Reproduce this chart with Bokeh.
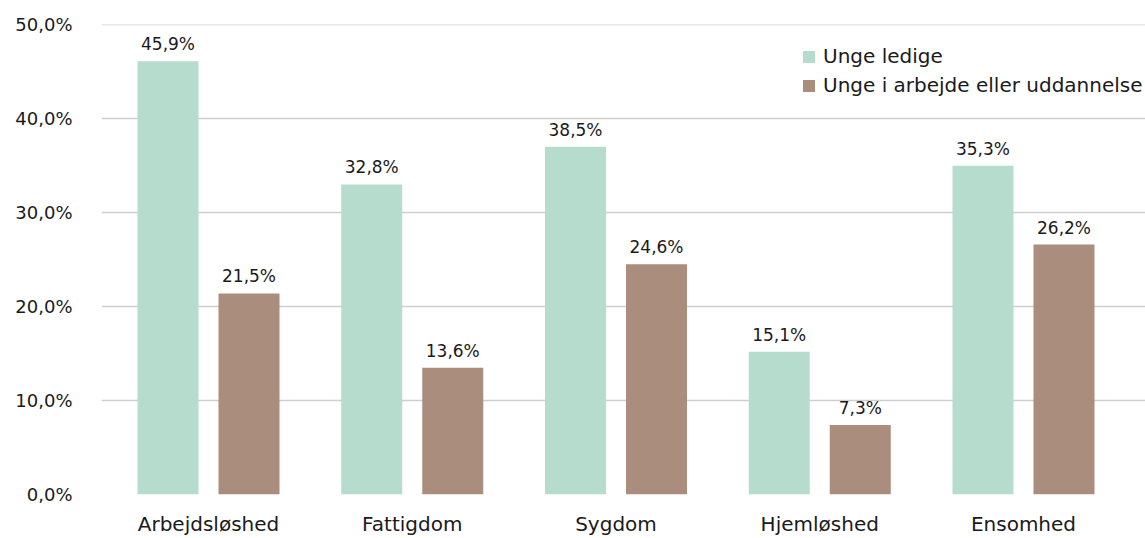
import numpy as np
from bokeh.plotting import figure
from bokeh.models import ColumnDataSource, FixedTicker, Legend, LegendItem
from bokeh.embed import file_html
from bokeh.resources import INLINE
from bokeh.core.properties import value

categories = ["Arbejdsløshed", "Fattigdom", "Sygdom", "Hjemløshed", "Ensomhed"]
series_names = ["Unge ledige", "Unge i arbejde eller uddannelse"]
ledige = [46.1, 33.0, 37.0, 15.2, 35.0]
arbejde = [21.4, 13.5, 24.5, 7.4, 26.6]
ledige_labels = ["45,9%", "32,8%", "38,5%", "15,1%", "35,3%"]
arbejde_labels = ["21,5%", "13,6%", "24,6%", "7,3%", "26,2%"]
y_ticks = [0, 10, 20, 30, 40, 50]
y_tick_labels = ["0,0%", "10,0%", "20,0%", "30,0%", "40,0%", "50,0%"]

GREEN = "#b6dccd"
BROWN = "#aa8d7c"
TEXT = "#1a1a1a"
FONT = "DejaVu Sans"

bar_w = 0.2994
off = 0.1988
xs = np.arange(len(categories), dtype=float)

src_g = ColumnDataSource(dict(x=xs - off, top=ledige, lab=ledige_labels))
src_b = ColumnDataSource(dict(x=xs + off, top=arbejde, lab=arbejde_labels))

p = figure(width=1145, height=538, x_range=(-0.5252, 4.5988), y_range=(0, 50.02),
           output_backend="svg", toolbar_location=None,
           min_border_left=101, min_border_top=24, min_border_right=0, min_border_bottom=0)
p.outline_line_color = None
p.background_fill_color = "white"
p.border_fill_color = "white"

rg = p.vbar(x="x", top="top", width=bar_w, source=src_g, color=GREEN, line_color=None)
rb = p.vbar(x="x", top="top", width=bar_w, source=src_b, color=BROWN, line_color=None)

for src in (src_g, src_b):
    p.text(x="x", y="top", text="lab", source=src, text_align="center",
           text_baseline="alphabetic", y_offset=-17, text_font=value(FONT),
           text_font_size="17px", text_color=TEXT)

p.xgrid.grid_line_color = None
p.ygrid.grid_line_color = "#cfcfcf"
p.ygrid.grid_line_width = 1.3
p.ygrid.ticker = FixedTicker(ticks=y_ticks)

p.yaxis.ticker = FixedTicker(ticks=y_ticks)
p.yaxis.major_label_overrides = {t: l for t, l in zip(y_ticks, y_tick_labels)}
p.yaxis.axis_line_color = None
p.yaxis.major_tick_line_color = None
p.yaxis.minor_tick_line_color = None
p.yaxis.major_label_standoff = 23
p.yaxis.major_label_text_font = FONT
p.yaxis.major_label_text_font_size = "18px"
p.yaxis.major_label_text_color = TEXT

p.xaxis.ticker = FixedTicker(ticks=list(xs))
p.xaxis.major_label_overrides = {float(i): c for i, c in enumerate(categories)}
p.xaxis.axis_line_color = None
p.xaxis.major_tick_line_color = None
p.xaxis.minor_tick_line_color = None
p.xaxis.major_tick_out = 0
p.xaxis.major_label_standoff = 17
p.xaxis.major_label_text_font = FONT
p.xaxis.major_label_text_font_size = "20px"
p.xaxis.major_label_text_color = TEXT

legend = Legend(items=[LegendItem(label=series_names[0], renderers=[rg]),
                       LegendItem(label=series_names[1], renderers=[rb])],
                location=(700, 397), orientation="vertical")
legend.glyph_width = 15
legend.glyph_height = 15
legend.label_height = 23
legend.spacing = 5
legend.padding = 0
legend.margin = 0
legend.label_standoff = 7
legend.border_line_color = None
legend.background_fill_alpha = 0
legend.label_text_font = FONT
legend.label_text_font_size = "20px"
legend.label_text_color = TEXT
p.add_layout(legend, "center")

open("out.html", "w").write(file_html(p, INLINE))
